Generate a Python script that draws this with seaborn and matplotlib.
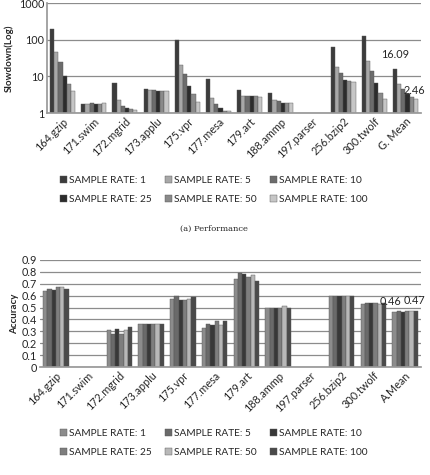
import numpy as np
import pandas as pd
import matplotlib
matplotlib.use('Agg')
import matplotlib.pyplot as plt
import seaborn as sns

# benchmarks
perf_labels = ['164.gzip', '171.swim', '172.mgrid', '173.applu', '175.vpr', '177.mesa',
               '179.art', '188.ammp', '197.parser', '256.bzip2', '300.twolf', 'G. Mean']
acc_labels = ['164.gzip', '171.swim', '172.mgrid', '173.applu', '175.vpr', '177.mesa',
              '179.art', '188.ammp', '197.parser', '256.bzip2', '300.twolf', 'A.Mean']
rates = ['SAMPLE RATE: 1', 'SAMPLE RATE: 5', 'SAMPLE RATE: 10',
         'SAMPLE RATE: 25', 'SAMPLE RATE: 50', 'SAMPLE RATE: 100']

nan = np.nan
# (a) slowdown, log scale
slow_1 = [200, 1.8, 6.4, 4.6, 100, 8.5, 4.2, 3.5, nan, 63, 127, 16.09]
slow_5 = [45, 1.8, 2.2, 4.3, 21, 2.6, 3.0, 2.3, nan, 17.5, 27, 6.2]
slow_10 = [24, 1.9, 1.6, 4.3, 11.5, 1.8, 2.9, 2.1, nan, 12.5, 14, 4.5]
slow_25 = [10.5, 1.8, 1.4, 4.1, 5.3, 1.4, 2.9, 1.9, nan, 8.0, 6.4, 3.4]
slow_50 = [6.3, 1.8, 1.25, 4.1, 3.2, 1.15, 2.9, 1.9, nan, 7.3, 3.6, 2.8]
slow_100 = [4.1, 1.9, 1.2, 4.1, 2.0, 1.1, 2.8, 1.9, nan, 6.9, 2.4, 2.46]

# (b) accuracy
acc_1 = [0.64, nan, 0.31, 0.36, 0.57, 0.33, 0.74, 0.50, nan, 0.60, 0.53, 0.46]
acc_5 = [0.66, nan, 0.28, 0.36, 0.60, 0.36, 0.79, 0.50, nan, 0.60, 0.54, 0.47]
acc_10 = [0.65, nan, 0.32, 0.36, 0.56, 0.35, 0.78, 0.50, nan, 0.60, 0.54, 0.46]
acc_25 = [0.67, nan, 0.28, 0.36, 0.56, 0.39, 0.76, 0.50, nan, 0.60, 0.54, 0.47]
acc_50 = [0.67, nan, 0.31, 0.36, 0.57, 0.35, 0.77, 0.51, nan, 0.60, 0.53, 0.47]
acc_100 = [0.66, nan, 0.34, 0.36, 0.59, 0.39, 0.72, 0.50, nan, 0.60, 0.54, 0.47]

perf_colors = ['#3c3c3c', '#a8a8a8', '#6c6c6c', '#2c2c2c', '#8a8a8a', '#c6c6c6']
acc_colors = ['#8c8c8c', '#6a6a6a', '#383838', '#7e7e7e', '#b8b8b8', '#4a4a4a']


def long_df(labels, series):
    rows = []
    for rate, vals in zip(rates, series):
        for lab, v in zip(labels, vals):
            if not np.isnan(v):
                rows.append({'bench': lab, 'rate': rate, 'value': v})
    return pd.DataFrame(rows)


df_perf = long_df(perf_labels, [slow_1, slow_5, slow_10, slow_25, slow_50, slow_100])
df_acc = long_df(acc_labels, [acc_1, acc_5, acc_10, acc_25, acc_50, acc_100])

sns.set_theme(style='white')
plt.rcParams['font.family'] = ['Lato', 'DejaVu Sans']

fig = plt.figure(figsize=(4.31, 4.75), dpi=100)
W, H = 431, 475
# legend is filled row by row in the original
row_order = [0, 3, 1, 4, 2, 5]

# --- top panel: performance ---
ax1 = fig.add_axes([47 / W, 1 - 113 / H, 374 / W, 110 / H])
ax1.set_yscale('log')
sns.barplot(data=df_perf, x='bench', y='value', hue='rate', order=perf_labels,
            hue_order=rates, palette=perf_colors, width=0.8, ax=ax1,
            edgecolor='#555555', linewidth=0.3, legend=True)
ax1.set_ylim(1, 1000)
ax1.set_yticks([1, 10, 100, 1000])
ax1.set_yticklabels(['1', '10', '100', '1000'])
ax1.minorticks_off()
ax1.yaxis.grid(True, color='#8c8c8c', linewidth=0.9)
ax1.set_axisbelow(True)
ax1.set_xlim(-0.5, 11.5)
ax1.set_xlabel('')
ax1.set_ylabel('Slowdown(Log)', fontsize=7, fontweight='bold')
ax1.tick_params(axis='both', length=0, labelsize=7.8, pad=2)
plt.setp(ax1.get_xticklabels(), rotation=45, ha='right', rotation_mode='anchor')
for s in ['top', 'right']:
    ax1.spines[s].set_visible(False)
for s in ['left', 'bottom']:
    ax1.spines[s].set_color('#999999')
ax1.text(10.66, slow_1[-1] * 1.7, '16.09', ha='center', va='bottom', fontsize=7.8)
ax1.text(11.3, slow_100[-1] * 1.2, '2.46', ha='center', va='bottom', fontsize=7.8)
h1, l1 = ax1.get_legend_handles_labels()
ax1.get_legend().remove()
fig.legend([h1[i] for i in row_order], [l1[i] for i in row_order], loc='center',
           bbox_to_anchor=(214 / W, 1 - 190 / H), ncol=3,
           frameon=False, fontsize=7.3, handlelength=0.7, handleheight=0.7,
           handletextpad=0.2, columnspacing=1.3, labelspacing=1.0)
fig.text(214 / W, 1 - 229 / H, '(a) Performance', ha='center', va='center',
         fontsize=6, family='DejaVu Serif')

# --- bottom panel: accuracy ---
ax2 = fig.add_axes([40 / W, 1 - 367 / H, 381 / W, 107 / H])
sns.barplot(data=df_acc, x='bench', y='value', hue='rate', order=acc_labels,
            hue_order=rates, palette=acc_colors, width=0.8, ax=ax2,
            edgecolor='#555555', linewidth=0.3, legend=True)
ax2.set_ylim(0, 0.9)
ax2.set_yticks(np.arange(0, 0.91, 0.1))
ax2.set_yticklabels(['0'] + ['%.1f' % v for v in np.arange(0.1, 0.91, 0.1)])
ax2.yaxis.grid(True, color='#8c8c8c', linewidth=0.9)
ax2.set_axisbelow(True)
ax2.set_xlim(-0.5, 11.5)
ax2.set_xlabel('')
ax2.set_ylabel('Accuracy', fontsize=7, fontweight='bold', labelpad=2)
ax2.tick_params(axis='both', length=0, labelsize=7.8, pad=2)
plt.setp(ax2.get_xticklabels(), rotation=45, ha='right', rotation_mode='anchor')
for s in ['top', 'right', 'left']:
    ax2.spines[s].set_visible(False)
ax2.spines['bottom'].set_color('#999999')
ax2.text(10.55, 0.505, '0.46', ha='center', va='bottom', fontsize=7.8)
ax2.text(11.3, 0.515, '0.47', ha='center', va='bottom', fontsize=7.8)
h2, l2 = ax2.get_legend_handles_labels()
ax2.get_legend().remove()
fig.legend([h2[i] for i in row_order], [l2[i] for i in row_order], loc='center',
           bbox_to_anchor=(214 / W, 1 - 443 / H), ncol=3,
           frameon=False, fontsize=7.3, handlelength=0.7, handleheight=0.7,
           handletextpad=0.2, columnspacing=1.3, labelspacing=1.0)

fig.savefig('out.png', dpi=100)
